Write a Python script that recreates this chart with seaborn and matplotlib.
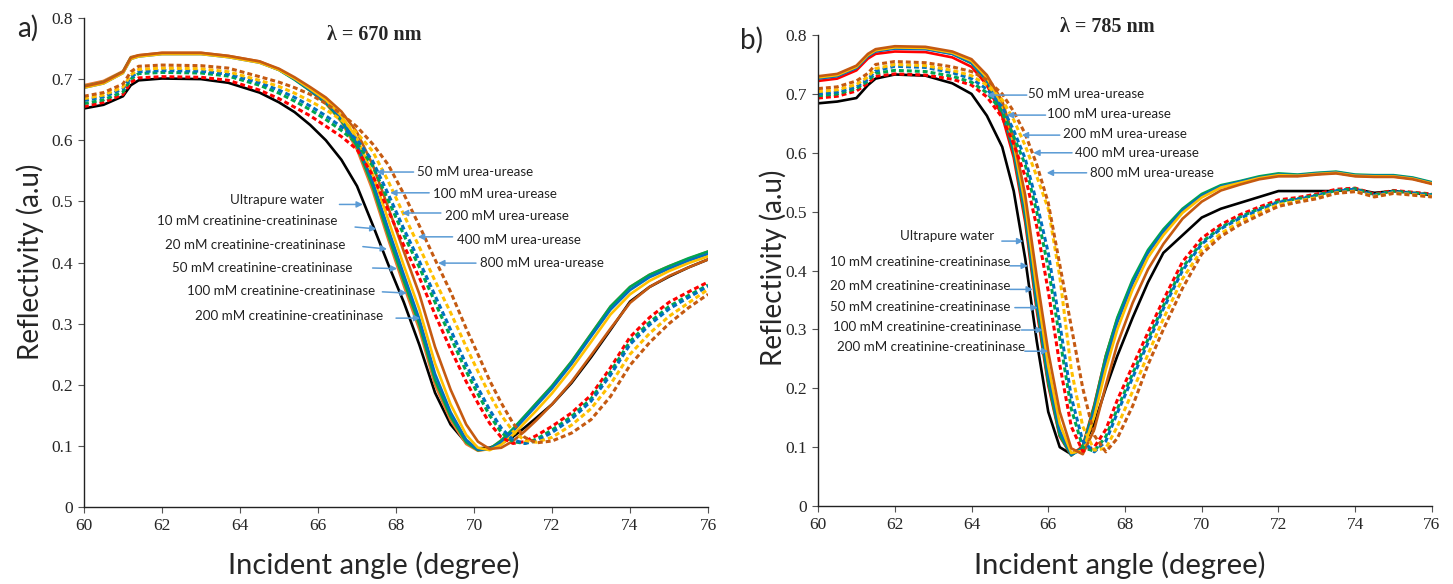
import matplotlib
matplotlib.use("Agg")
import matplotlib.pyplot as plt
import seaborn as sns
import numpy as np
import pandas as pd

# ---------------- DATA ----------------
series_names = ["Ultrapure water",
                "10 mM creatinine-creatininase", "20 mM creatinine-creatininase",
                "50 mM creatinine-creatininase", "100 mM creatinine-creatininase",
                "200 mM creatinine-creatininase",
                "50 mM urea-urease", "100 mM urea-urease", "200 mM urea-urease",
                "400 mM urea-urease", "800 mM urea-urease"]

x_ticks = [60, 62, 64, 66, 68, 70, 72, 74, 76]
y_ticks = [0, 0.1, 0.2, 0.3, 0.4, 0.5, 0.6, 0.7, 0.8]
y_tick_labels = ["0", "0.1", "0.2", "0.3", "0.4", "0.5", "0.6", "0.7", "0.8"]
title_a = "λ = 670 nm"
title_b = "λ = 785 nm"
xlabel = "Incident angle (degree)"
ylabel = "Reflectivity (a.u)"

# ---- panel a (670 nm) ----
angle_a = [60, 60.5, 61, 61.2, 61.4, 62, 63, 63.7, 64.5, 65, 65.4, 65.8, 66.2, 66.6, 67, 67.4,
           67.8, 68.2, 68.6, 69, 69.4, 69.8, 70.1, 70.4, 70.7, 71, 71.3, 71.6, 72, 72.5, 73,
           73.5, 74, 74.5, 75, 75.5, 76]
a_water = [0.652, 0.658, 0.672, 0.690, 0.698, 0.701, 0.700, 0.694, 0.678, 0.662, 0.646, 0.625,
           0.600, 0.568, 0.525, 0.462, 0.397, 0.335, 0.265, 0.187, 0.135, 0.105, 0.096, 0.097,
           0.104, 0.115, 0.130, 0.146, 0.168, 0.203, 0.245, 0.290, 0.336, 0.360, 0.377, 0.392, 0.405]
a_cre10 = [0.690, 0.697, 0.713, 0.736, 0.739, 0.743, 0.743, 0.738, 0.729, 0.716, 0.700, 0.681,
           0.660, 0.630, 0.585, 0.518, 0.438, 0.362, 0.290, 0.200, 0.142, 0.103, 0.092, 0.095,
           0.109, 0.127, 0.148, 0.170, 0.198, 0.238, 0.283, 0.328, 0.360, 0.380, 0.394, 0.406, 0.418]
a_cre20 = [0.688, 0.695, 0.712, 0.735, 0.738, 0.742, 0.742, 0.737, 0.728, 0.715, 0.699, 0.681,
           0.661, 0.632, 0.590, 0.525, 0.445, 0.370, 0.298, 0.208, 0.148, 0.106, 0.093, 0.095,
           0.109, 0.128, 0.149, 0.170, 0.198, 0.238, 0.283, 0.328, 0.360, 0.380, 0.394, 0.407, 0.418]
a_cre50 = [0.686, 0.693, 0.710, 0.733, 0.737, 0.741, 0.741, 0.736, 0.727, 0.715, 0.700, 0.682,
           0.663, 0.635, 0.595, 0.533, 0.455, 0.380, 0.307, 0.218, 0.155, 0.110, 0.094, 0.094,
           0.106, 0.124, 0.145, 0.166, 0.194, 0.234, 0.279, 0.323, 0.355, 0.376, 0.390, 0.403, 0.414]
a_cre100 = [0.686, 0.693, 0.710, 0.733, 0.737, 0.741, 0.741, 0.736, 0.727, 0.715, 0.701, 0.684,
            0.666, 0.640, 0.603, 0.545, 0.470, 0.395, 0.323, 0.235, 0.168, 0.118, 0.097, 0.093,
            0.102, 0.118, 0.138, 0.158, 0.186, 0.226, 0.270, 0.315, 0.348, 0.370, 0.386, 0.399, 0.410]
a_cre200 = [0.688, 0.695, 0.712, 0.735, 0.739, 0.743, 0.743, 0.738, 0.729, 0.717, 0.703, 0.687,
            0.670, 0.647, 0.613, 0.560, 0.490, 0.418, 0.348, 0.262, 0.192, 0.135, 0.107, 0.095,
            0.097, 0.108, 0.124, 0.142, 0.168, 0.205, 0.248, 0.292, 0.334, 0.360, 0.378, 0.392, 0.405]
a_ure50 = [0.655, 0.662, 0.675, 0.695, 0.702, 0.704, 0.703, 0.698, 0.682, 0.668, 0.654, 0.640,
           0.623, 0.606, 0.585, 0.543, 0.485, 0.428, 0.375, 0.315, 0.258, 0.205, 0.170, 0.137,
           0.114, 0.104, 0.107, 0.117, 0.132, 0.154, 0.183, 0.228, 0.278, 0.310, 0.335, 0.352, 0.368]
a_ure100 = [0.660, 0.666, 0.679, 0.700, 0.709, 0.711, 0.710, 0.705, 0.690, 0.677, 0.664, 0.650,
            0.634, 0.616, 0.595, 0.558, 0.502, 0.445, 0.392, 0.335, 0.278, 0.222, 0.185, 0.150,
            0.122, 0.107, 0.104, 0.111, 0.126, 0.148, 0.177, 0.221, 0.271, 0.302, 0.328, 0.346, 0.363]
a_ure200 = [0.665, 0.671, 0.684, 0.703, 0.712, 0.714, 0.713, 0.708, 0.694, 0.682, 0.670, 0.656,
            0.640, 0.622, 0.601, 0.566, 0.512, 0.455, 0.402, 0.346, 0.290, 0.233, 0.195, 0.159,
            0.129, 0.110, 0.104, 0.108, 0.122, 0.144, 0.173, 0.216, 0.266, 0.298, 0.324, 0.343, 0.361]
a_ure400 = [0.668, 0.674, 0.687, 0.707, 0.716, 0.718, 0.717, 0.712, 0.698, 0.688, 0.677, 0.664,
            0.650, 0.633, 0.612, 0.582, 0.533, 0.478, 0.425, 0.370, 0.318, 0.262, 0.222, 0.184,
            0.150, 0.124, 0.109, 0.106, 0.114, 0.134, 0.161, 0.201, 0.250, 0.284, 0.312, 0.334, 0.356]
a_ure800 = [0.672, 0.678, 0.692, 0.712, 0.721, 0.723, 0.722, 0.718, 0.704, 0.695, 0.686, 0.675,
            0.660, 0.643, 0.622, 0.594, 0.560, 0.512, 0.460, 0.405, 0.352, 0.292, 0.250, 0.207,
            0.170, 0.137, 0.114, 0.105, 0.108, 0.121, 0.143, 0.181, 0.232, 0.269, 0.300, 0.326, 0.348]

# ---- panel b (785 nm) ----
angle_b = [60, 60.5, 61, 61.3, 61.5, 62, 62.8, 63.5, 64, 64.4, 64.8, 65.1, 65.4, 65.7, 66, 66.3,
           66.6, 66.9, 67.2, 67.5, 67.8, 68.2, 68.6, 69, 69.5, 70, 70.5, 71, 71.5, 72, 72.5, 73,
           73.5, 74, 74.5, 75, 75.5, 76]
b_water = [0.684, 0.687, 0.693, 0.715, 0.726, 0.733, 0.731, 0.718, 0.700, 0.663, 0.610, 0.535,
           0.420, 0.280, 0.160, 0.100, 0.088, 0.100, 0.140, 0.200, 0.255, 0.320, 0.380, 0.430,
           0.460, 0.490, 0.505, 0.515, 0.525, 0.535, 0.535, 0.535, 0.535, 0.538, 0.532, 0.535, 0.532, 0.528]
b_cre10 = [0.722, 0.726, 0.740, 0.760, 0.768, 0.772, 0.771, 0.762, 0.746, 0.715, 0.662, 0.592,
           0.482, 0.332, 0.205, 0.118, 0.086, 0.102, 0.172, 0.255, 0.318, 0.382, 0.432, 0.467,
           0.502, 0.527, 0.542, 0.550, 0.557, 0.562, 0.561, 0.564, 0.566, 0.561, 0.560, 0.560, 0.556, 0.548]
b_cre20 = [0.727, 0.731, 0.745, 0.765, 0.773, 0.778, 0.777, 0.768, 0.752, 0.722, 0.670, 0.600,
           0.490, 0.340, 0.210, 0.120, 0.086, 0.100, 0.170, 0.255, 0.320, 0.385, 0.435, 0.470,
           0.505, 0.530, 0.545, 0.552, 0.560, 0.565, 0.563, 0.566, 0.568, 0.563, 0.562, 0.562, 0.558, 0.550]
b_cre50 = [0.726, 0.730, 0.744, 0.764, 0.772, 0.777, 0.776, 0.768, 0.753, 0.724, 0.674, 0.607,
           0.500, 0.352, 0.222, 0.128, 0.087, 0.097, 0.162, 0.245, 0.312, 0.378, 0.430, 0.466,
           0.502, 0.527, 0.543, 0.551, 0.558, 0.563, 0.562, 0.565, 0.567, 0.562, 0.561, 0.561, 0.557, 0.549]
b_cre100 = [0.728, 0.732, 0.746, 0.766, 0.774, 0.779, 0.778, 0.770, 0.756, 0.728, 0.680, 0.615,
            0.512, 0.368, 0.238, 0.140, 0.090, 0.094, 0.152, 0.232, 0.300, 0.368, 0.422, 0.460,
            0.498, 0.524, 0.541, 0.549, 0.557, 0.562, 0.561, 0.564, 0.566, 0.561, 0.560, 0.560, 0.556, 0.548]
b_cre200 = [0.730, 0.734, 0.748, 0.768, 0.776, 0.781, 0.780, 0.772, 0.759, 0.732, 0.688, 0.625,
            0.528, 0.390, 0.262, 0.160, 0.098, 0.088, 0.130, 0.205, 0.275, 0.345, 0.402, 0.445,
            0.488, 0.517, 0.536, 0.546, 0.555, 0.560, 0.560, 0.563, 0.565, 0.560, 0.559, 0.559, 0.555, 0.547]
b_ure50 = [0.693, 0.696, 0.705, 0.718, 0.730, 0.734, 0.732, 0.725, 0.715, 0.695, 0.660, 0.615,
           0.560, 0.475, 0.365, 0.240, 0.135, 0.093, 0.100, 0.130, 0.180, 0.238, 0.295, 0.350,
           0.415, 0.455, 0.478, 0.495, 0.508, 0.520, 0.524, 0.530, 0.538, 0.540, 0.530, 0.536, 0.533, 0.530]
b_ure100 = [0.697, 0.700, 0.709, 0.722, 0.735, 0.740, 0.738, 0.730, 0.720, 0.702, 0.670, 0.628,
            0.580, 0.500, 0.405, 0.285, 0.165, 0.100, 0.093, 0.118, 0.165, 0.225, 0.283, 0.340,
            0.405, 0.448, 0.473, 0.491, 0.505, 0.517, 0.522, 0.528, 0.536, 0.539, 0.529, 0.535, 0.532, 0.529]
b_ure200 = [0.700, 0.703, 0.712, 0.725, 0.739, 0.747, 0.745, 0.736, 0.726, 0.708, 0.678, 0.638,
            0.590, 0.515, 0.430, 0.310, 0.185, 0.110, 0.092, 0.110, 0.158, 0.218, 0.277, 0.335,
            0.400, 0.445, 0.471, 0.489, 0.503, 0.516, 0.521, 0.527, 0.535, 0.538, 0.528, 0.534, 0.531, 0.528]
b_ure400 = [0.704, 0.707, 0.716, 0.729, 0.743, 0.750, 0.748, 0.740, 0.731, 0.715, 0.690, 0.656,
            0.612, 0.560, 0.505, 0.390, 0.232, 0.135, 0.095, 0.098, 0.135, 0.195, 0.258, 0.318,
            0.386, 0.435, 0.463, 0.483, 0.498, 0.512, 0.518, 0.524, 0.532, 0.535, 0.526, 0.532, 0.529, 0.526]
b_ure800 = [0.709, 0.712, 0.722, 0.735, 0.750, 0.755, 0.753, 0.746, 0.738, 0.724, 0.700, 0.670,
            0.632, 0.580, 0.515, 0.410, 0.305, 0.200, 0.120, 0.092, 0.115, 0.170, 0.240, 0.300,
            0.370, 0.428, 0.458, 0.478, 0.494, 0.509, 0.516, 0.522, 0.531, 0.534, 0.525, 0.531, 0.528, 0.525]

values_a = [a_water, a_cre10, a_cre20, a_cre50, a_cre100, a_cre200,
            a_ure50, a_ure100, a_ure200, a_ure400, a_ure800]
values_b = [b_water, b_cre10, b_cre20, b_cre50, b_cre100, b_cre200,
            b_ure50, b_ure100, b_ure200, b_ure400, b_ure800]

# ---------------- STYLE ----------------
colors_a = ["#000000", "#E8772E", "#00A650", "#0070C0", "#FFC000", "#C55A11",
            "#FF0000", "#00A650", "#0070C0", "#FFC000", "#C55A11"]
colors_b = ["#000000", "#FF0000", "#00A650", "#0070C0", "#FFC000", "#C55A11",
            "#FF0000", "#00A650", "#0070C0", "#FFC000", "#C55A11"]
dashed = [False] * 6 + [True] * 5
arrow_color = "#5B9BD5"

sns.set_style("ticks")
plt.rcParams["font.family"] = ["Lato", "DejaVu Sans"]

fig = plt.figure(figsize=(14.53, 5.84), dpi=100)
ax_a = fig.add_axes([0.0578, 0.1318, 0.4295, 0.8374])
ax_b = fig.add_axes([0.5630, 0.1335, 0.4225, 0.8065])


def draw(ax, angles, values, colors):
    for name, vals, col, dsh in zip(series_names, values, colors, dashed):
        df = pd.DataFrame({"angle": angles, "R": vals})
        if dsh:
            sns.lineplot(data=df, x="angle", y="R", ax=ax, color=col, lw=2.2,
                         linestyle=(0, (1.6, 1.0)), estimator=None, sort=False)
        else:
            sns.lineplot(data=df, x="angle", y="R", ax=ax, color=col, lw=1.9,
                         estimator=None, sort=False)
    ax.set_xlim(60, 76)
    ax.set_ylim(0, 0.8)
    ax.set_xticks(x_ticks)
    ax.set_xticklabels([str(t) for t in x_ticks], family="Liberation Serif", fontsize=12.5)
    ax.set_yticks(y_ticks)
    ax.set_yticklabels(y_tick_labels, family="Liberation Serif", fontsize=12.5)
    ax.tick_params(axis="both", direction="out", length=4, width=0.8, color="#555555", pad=4)
    ax.set_xlabel("")
    ax.set_ylabel("")
    for s in ["left", "bottom"]:
        ax.spines[s].set_color("#222222")
        ax.spines[s].set_linewidth(1.0)
    sns.despine(ax=ax)


draw(ax_a, angle_a, values_a, colors_a)
draw(ax_b, angle_b, values_b, colors_b)

ann_fs = 9.6


def arrow(ax, tail, tip):
    ax.annotate("", xy=tip, xytext=tail,
                arrowprops=dict(arrowstyle="-|>", color=arrow_color, lw=1.1,
                                mutation_scale=9, shrinkA=0, shrinkB=0))


# annotations: (label index, text x, text y, ha, arrow tail, arrow tip)
ann_a = [
    (6, 68.55, 0.548, "left", (68.45, 0.548), (67.5, 0.548)),
    (7, 68.95, 0.512, "left", (68.85, 0.514), (67.85, 0.514)),
    (8, 69.26, 0.476, "left", (69.15, 0.481), (68.15, 0.481)),
    (9, 69.56, 0.437, "left", (69.45, 0.442), (68.56, 0.442)),
    (10, 70.15, 0.399, "left", (70.05, 0.399), (69.08, 0.399)),
    (0, 66.15, 0.502, "right", (66.55, 0.495), (67.15, 0.495)),
    (1, 66.5, 0.468, "right", (66.95, 0.458), (67.5, 0.455)),
    (2, 66.7, 0.429, "right", (67.15, 0.426), (67.77, 0.422)),
    (3, 66.87, 0.391, "right", (67.4, 0.391), (68.03, 0.39)),
    (4, 67.46, 0.354, "right", (67.65, 0.352), (68.28, 0.35)),
    (5, 67.67, 0.313, "right", (68.0, 0.309), (68.62, 0.309)),
]
ann_b = [
    (6, 65.48, 0.700, "left", (65.44, 0.698), (64.4, 0.698)),
    (7, 65.96, 0.666, "left", (65.93, 0.664), (64.92, 0.664)),
    (8, 66.39, 0.632, "left", (66.3, 0.630), (65.31, 0.630)),
    (9, 66.7, 0.600, "left", (66.62, 0.600), (65.61, 0.600)),
    (10, 67.09, 0.566, "left", (67.0, 0.566), (65.96, 0.566)),
    (0, 64.6, 0.458, "right", (64.79, 0.450), (65.35, 0.450)),
    (1, 65.0, 0.414, "right", (65.0, 0.408), (65.47, 0.408)),
    (2, 65.0, 0.374, "right", (65.0, 0.368), (65.6, 0.368)),
    (3, 65.0, 0.338, "right", (65.13, 0.337), (65.73, 0.337)),
    (4, 65.3, 0.304, "right", (65.3, 0.299), (65.86, 0.299)),
    (5, 65.39, 0.270, "right", (65.39, 0.263), (66.0, 0.263)),
]

for ax, anns in [(ax_a, ann_a), (ax_b, ann_b)]:
    for idx, tx, ty, ha, tail, tip in anns:
        arrow(ax, tail, tip)
        ax.text(tx, ty, series_names[idx], ha=ha, va="center", fontsize=ann_fs,
                color="#222222", family=["Lato", "DejaVu Sans"])

ax_a.text(67.45, 0.772, title_a, ha="center", va="center", fontsize=14.5,
          fontweight="bold", family="Liberation Serif", clip_on=False)
ax_b.text(67.55, 0.814, title_b, ha="center", va="center", fontsize=14.5,
          fontweight="bold", family="Liberation Serif", clip_on=False)

# axis labels
fig.text(30 / 1453, 1 - 262 / 584, ylabel, rotation=90, ha="center", va="center",
         fontsize=20, family=["Lato", "DejaVu Sans"])
fig.text(773 / 1453, 1 - 268 / 584, ylabel, rotation=90, ha="center", va="center",
         fontsize=20, family=["Lato", "DejaVu Sans"])
fig.text(374 / 1453, 1 - 565 / 584, xlabel, ha="center", va="center",
         fontsize=21, family=["Lato", "DejaVu Sans"])
fig.text(1120 / 1453, 1 - 565 / 584, xlabel, ha="center", va="center",
         fontsize=21, family=["Lato", "DejaVu Sans"])

fig.text(28 / 1453, 1 - 28 / 584, "a)", ha="center", va="center", fontsize=20,
         family=["Lato", "DejaVu Sans"])
fig.text(752 / 1453, 1 - 40 / 584, "b)", ha="center", va="center", fontsize=20,
         family=["Lato", "DejaVu Sans"])

fig.savefig("out.png", dpi=100, facecolor="white")
